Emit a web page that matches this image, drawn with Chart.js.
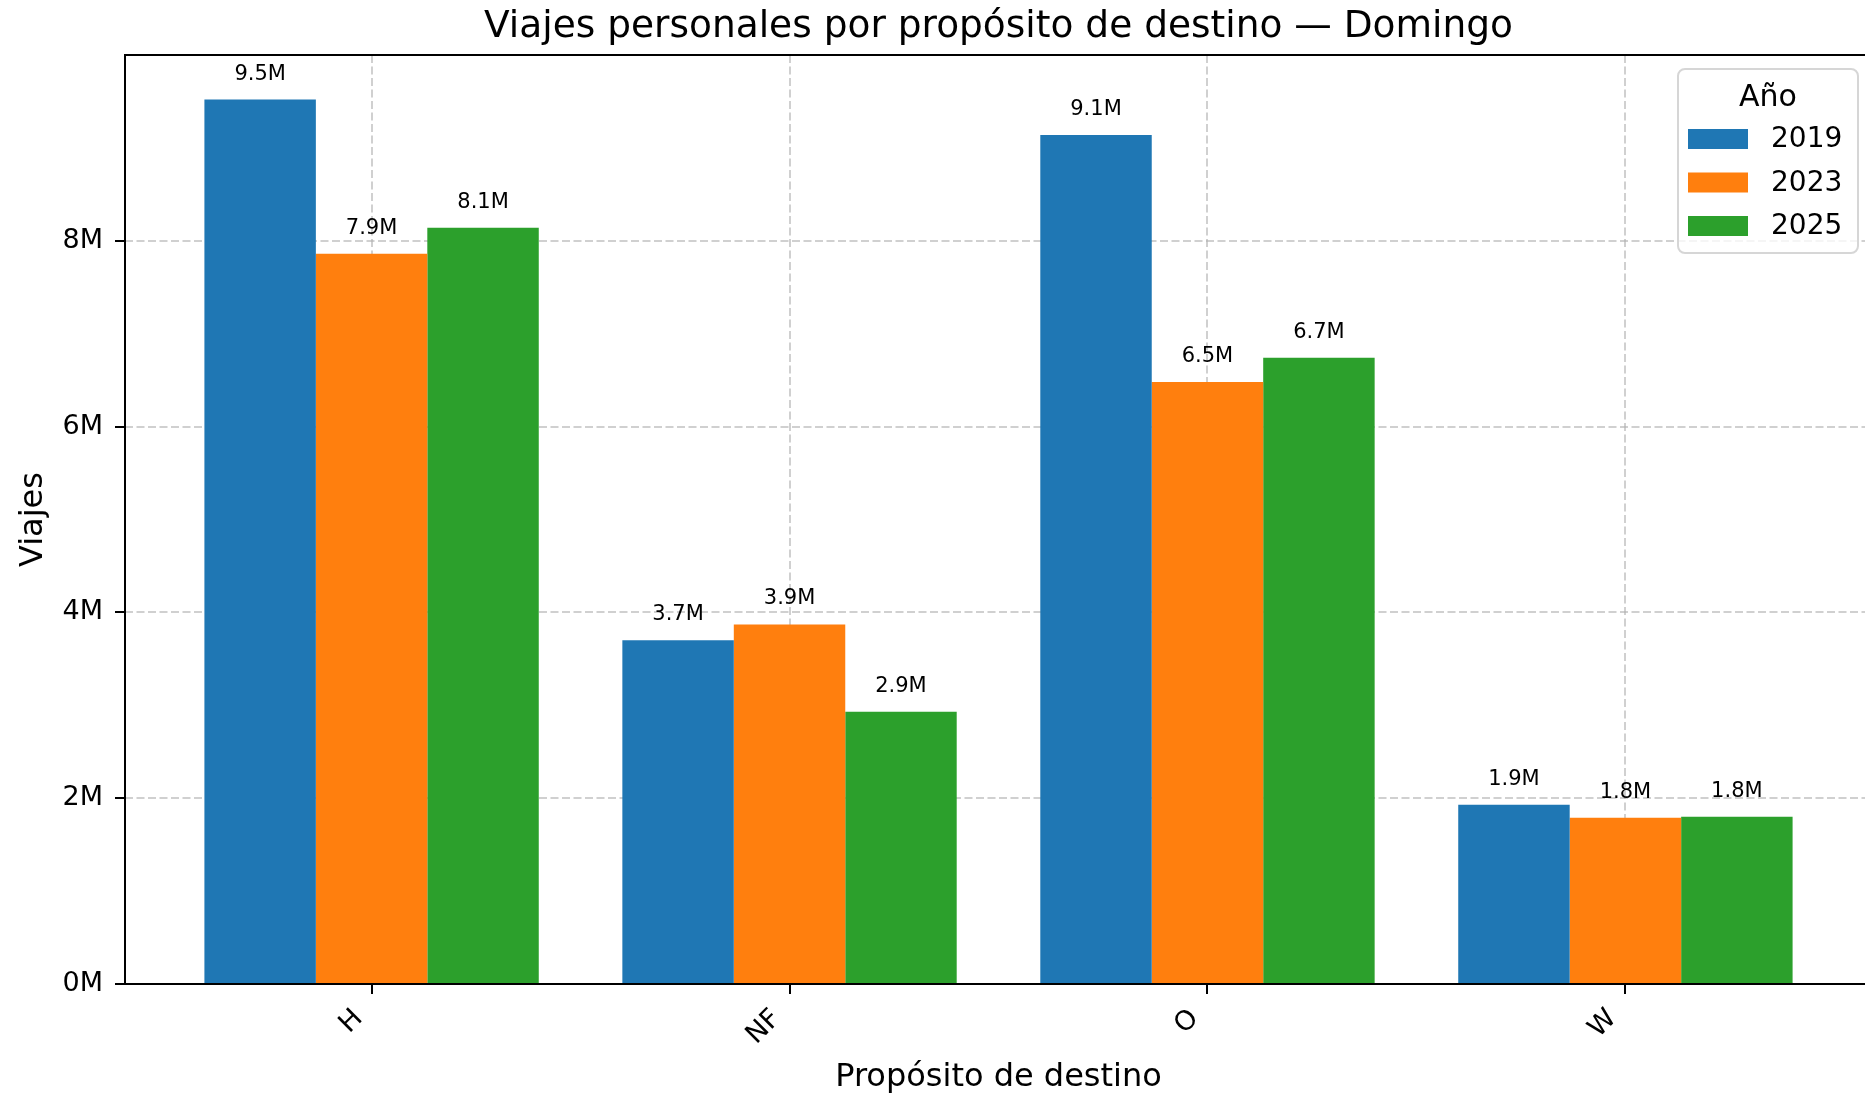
<!DOCTYPE html>
<html>
<head>
<meta charset="utf-8">
<script src="https://cdn.jsdelivr.net/npm/chart.js@4/dist/chart.umd.min.js"></script>
<style>
  html, body { margin: 0; padding: 0; background: #fff; overflow: hidden; }
  #wrap { width: 1872px; height: 1094px; }
</style>
</head>
<body>
<div id="wrap"><canvas id="chart" width="1872" height="1094"></canvas></div>
<script>
// ── Data ──────────────────────────────────────────────────────
const categories = ['H', 'NF', 'O', 'W'];
const years      = ['2019', '2023', '2025'];
const trips2019  = [9520000, 3700000, 9140000, 1930000];
const trips2023  = [7860000, 3870000, 6480000, 1790000];
const trips2025  = [8140000, 2930000, 6740000, 1800000];
const yTicks     = [0, 2000000, 4000000, 6000000, 8000000];
const colors     = ['#1f77b4', '#ff7f0e', '#2ca02c'];

const FONT = 'DejaVu Sans';
const fmtM = v => (v / 1e6).toFixed(1) + 'M';
const toPoints = arr => arr.map((v, i) => ({ x: i, y: v }));

// ── Plugins ───────────────────────────────────────────────────
const barLabels = {
  id: 'barLabels',
  afterDraw(chart) {
    const ctx = chart.ctx;
    ctx.save();
    ctx.font = `21px "${FONT}"`;
    ctx.fillStyle = '#000';
    ctx.textAlign = 'center';
    ctx.textBaseline = 'alphabetic';
    chart.data.datasets.forEach((ds, di) => {
      chart.getDatasetMeta(di).data.forEach((bar, i) => {
        ctx.fillText(fmtM(ds.data[i].y), bar.x, bar.y - 20);
      });
    });
    ctx.restore();
  }
};

const frameAndLegend = {
  id: 'frameAndLegend',
  afterDraw(chart) {
    const ctx = chart.ctx;
    const a = chart.chartArea;
    ctx.save();
    // spines
    ctx.strokeStyle = '#000';
    ctx.lineWidth = 2;
    ctx.strokeRect(a.left, a.top, a.right - a.left, a.bottom - a.top);

    // legend box
    const bx = 1678, by = 69, bw = 180, bh = 184, r = 7;
    ctx.beginPath();
    ctx.roundRect(bx, by, bw, bh, r);
    ctx.fillStyle = 'rgba(255,255,255,0.8)';
    ctx.fill();
    ctx.strokeStyle = '#d6d6d6';
    ctx.lineWidth = 2;
    ctx.stroke();

    ctx.fillStyle = '#000';
    ctx.textBaseline = 'middle';
    ctx.textAlign = 'center';
    ctx.font = `30px "${FONT}"`;
    ctx.fillText('Año', bx + bw / 2, 98);

    ctx.textAlign = 'left';
    ctx.font = `28px "${FONT}"`;
    years.forEach((y, i) => {
      const cy = 139 + i * 43.5;
      ctx.fillStyle = colors[i];
      ctx.fillRect(1688, cy - 10, 60, 20);
      ctx.fillStyle = '#000';
      ctx.fillText(y, 1771, cy + 1);
    });
    ctx.restore();
  }
};

// ── Chart ─────────────────────────────────────────────────────
const gridStyle = {
  color: 'rgba(176,176,176,0.6)',
  lineWidth: 2,
  tickColor: '#000',
  tickWidth: 2,
  tickLength: 10,
  offset: false
};

new Chart(document.getElementById('chart'), {
  type: 'bar',
  data: {
    datasets: [trips2019, trips2023, trips2025].map((arr, i) => ({
      label: years[i],
      data: toPoints(arr),
      backgroundColor: colors[i],
      borderWidth: 0,
      categoryPercentage: 0.8,
      barPercentage: 1.0
    }))
  },
  options: {
    responsive: false,
    animation: false,
    devicePixelRatio: 1,
    layout: { padding: 0 },
    plugins: {
      legend: { display: false },
      tooltip: { enabled: false },
      title: {
        display: true,
        fullSize: false,
        text: 'Viajes personales por propósito de destino — Domingo',
        color: '#000',
        font: { family: FONT, size: 37.5, weight: 'normal', lineHeight: 1.2 },
        padding: { top: 5, bottom: 5 }
      }
    },
    scales: {
      x: {
        type: 'linear',
        min: -0.59,
        max: 3.59,
        offset: false,
        z: 1,
        grid: gridStyle,
        border: { display: false, dash: [8, 3.5] },
        afterBuildTicks: s => { s.ticks = categories.map((_, i) => ({ value: i })); },
        afterFit: s => { s.height = 110; },
        ticks: {
          autoSkip: false,
          minRotation: 45,
          maxRotation: 45,
          padding: 9,
          labelOffset: -13,
          color: '#000',
          font: { family: FONT, size: 27 },
          callback: v => categories[v] ?? ''
        },
        title: {
          display: true,
          text: 'Propósito de destino',
          color: '#000',
          font: { family: FONT, size: 32, lineHeight: 1.0 },
          padding: { top: 0, bottom: 0 }
        }
      },
      y: {
        min: 0,
        max: 10000000,
        z: 1,
        grid: gridStyle,
        border: { display: false, dash: [8, 3.5] },
        afterBuildTicks: s => { s.ticks = yTicks.map(v => ({ value: v })); },
        afterFit: s => { s.width = 125; },
        ticks: {
          padding: 12,
          color: '#000',
          font: { family: FONT, size: 27 },
          callback: v => (v / 1e6) + 'M'
        },
        title: {
          display: true,
          text: 'Viajes',
          color: '#000',
          font: { family: FONT, size: 32, lineHeight: 1.2 },
          padding: { top: 14, bottom: 0 }
        }
      }
    }
  },
  plugins: [barLabels, frameAndLegend]
});
</script>
</body>
</html>
